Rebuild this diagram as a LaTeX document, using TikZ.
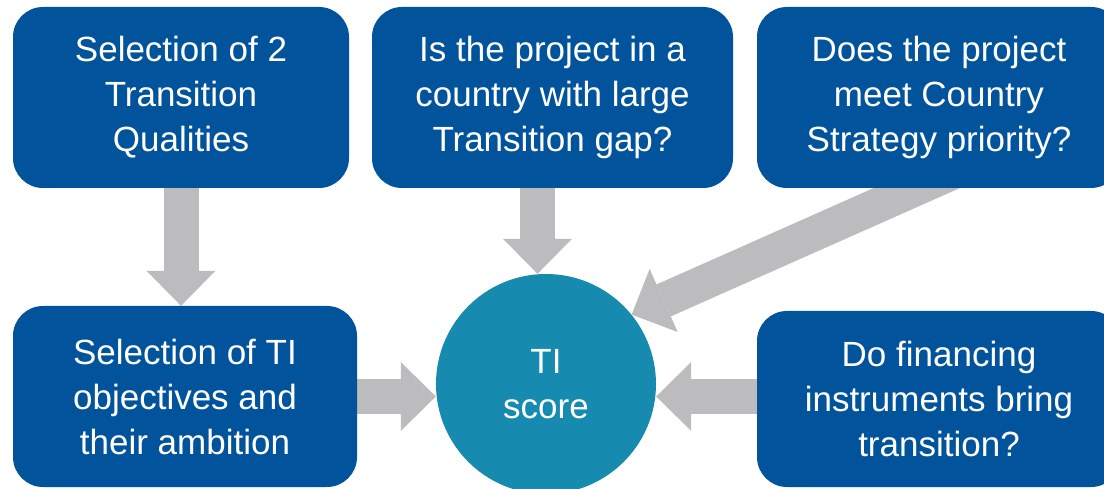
\documentclass[tikz,border=0pt]{standalone}
\usepackage{fontspec}
\setmainfont{Liberation Sans}
\usetikzlibrary{arrows.meta,calc,backgrounds}

\definecolor{boxblue}{RGB}{1,83,156}
\definecolor{scoreteal}{RGB}{23,138,175}
\definecolor{arrowgray}{RGB}{188,188,190}

\begin{document}
\begin{tikzpicture}[x=1pt,y=-1pt,
  qbox/.style={rectangle, rounded corners=30pt, fill=boxblue, text=white,
    align=center, inner sep=0pt,
    font=\fontsize{35pt}{45pt}\selectfont},
  scorecircle/.style={circle, fill=scoreteal, text=white, align=center,
    minimum size=220pt, inner sep=0pt,
    font=\fontsize{35pt}{45pt}\selectfont},
  bigarrow/.style={draw=arrowgray, line width=35pt,
    -{Triangle[width=69pt,length=35pt,line width=0pt]}}]

  \useasboundingbox (0,0) rectangle (1104,489);
  \clip (0,0) rectangle (1104,489);

  % question boxes
  \node[qbox, minimum width=336pt, minimum height=181pt] (box1) at (181,97.5)
    {Selection of 2\\Transition\\Qualities};
  \node[qbox, minimum width=361pt, minimum height=181pt] (box2) at (552.5,97.5)
    {Is the project in a\\country with large\\Transition gap?};
  \node[qbox, minimum width=364pt, minimum height=181pt] (box3) at (939,97.5)
    {Does the project\\meet Country\\Strategy priority?};
  \node[qbox, minimum width=344pt, minimum height=181pt] (box4) at (185,396.5)
    {Selection of TI\\objectives and\\their ambition};
  \node[qbox, minimum width=364pt, minimum height=176pt] (box5) at (939,399)
    {Do financing\\instruments bring\\transition?};

  % result
  \node[scorecircle] (circ) at (546,384) {TI\\score};

  % connectors, kept behind the shapes
  \begin{scope}[on background layer]
    \coordinate (a2) at ($(box2.south)+(-15,0)$);
    \coordinate (a4) at ($(box3.south)+(18,-18)$);
    \coordinate (a5) at (box5.west |- box4.east);
    \draw[bigarrow] (box1.south) -- (box1.south |- box4.north);
    \draw[bigarrow] (a2) -- (a2 |- circ.north);
    \draw[bigarrow] (a4) -- (circ.39);
    \draw[bigarrow] (box4.east) -- (box4.east -| circ.west);
    \draw[bigarrow] (a5) -- (a5 -| circ.east);
  \end{scope}
\end{tikzpicture}
\end{document}
